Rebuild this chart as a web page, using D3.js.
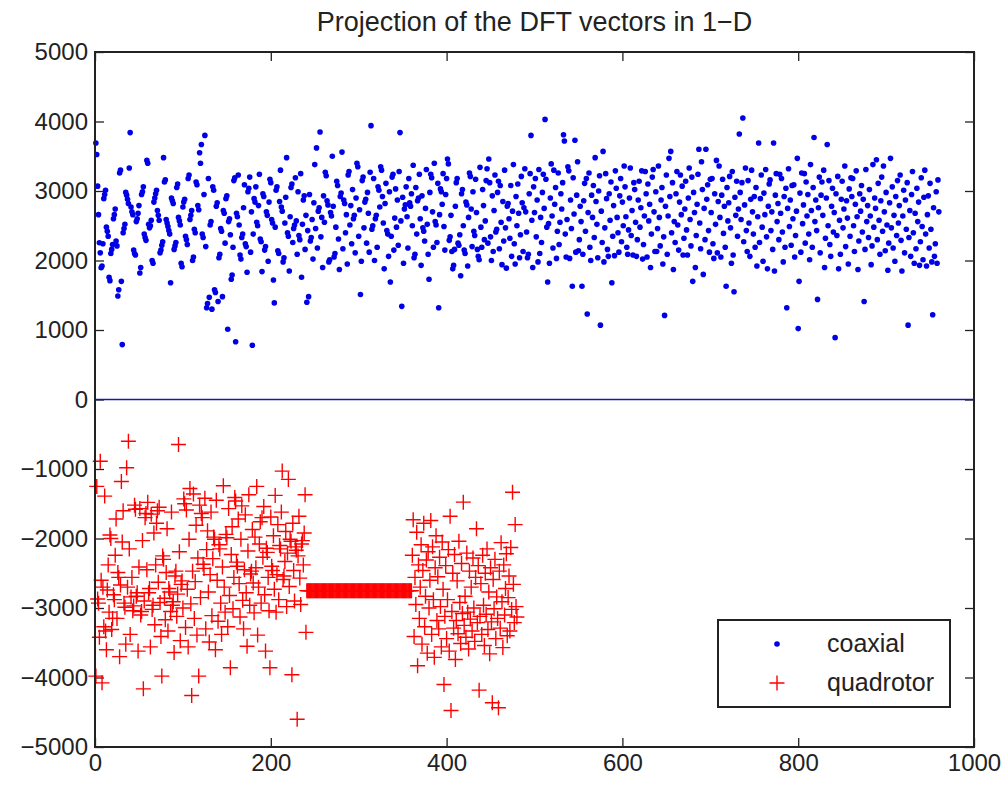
<!DOCTYPE html>
<html>
<head>
<meta charset="utf-8">
<script src="https://cdn.jsdelivr.net/npm/d3@7"></script>
<style>
  body { margin: 0; background: #fff; }
  text { font-family: "Liberation Sans", Arial, Helvetica, sans-serif; fill: #222; }
</style>
</head>
<body>
<script>
const title = 'Projection of the DFT vectors in 1\u2212D';
const seriesNames = ['coaxial', 'quadrotor'];
const xTicks = [0, 200, 400, 600, 800, 1000];
const yTicks = [-5000, -4000, -3000, -2000, -1000, 0, 1000, 2000, 3000, 4000, 5000];
const zeroLineX = [0, 1000];
const zeroLineY = [0, 0];

// coaxial: one value per sample, sample index 1..960
const coaxial = [
  3690, 3525, 3070, 2660, 2255, 2110, 1895, 1920, 2240, 2890,
  2950, 3010, 2480, 2420, 2350, 1760, 1710, 2100, 2160, 2230,
  2600, 2660, 2740, 2280, 2210, 1490, 1580, 3260, 3300, 1700,
  790, 2400, 2460, 2520, 2980, 2940, 2880, 2820, 3330, 3840,
  2770, 2700, 2660, 2150, 2100, 2080, 2560, 2600, 2680, 2790,
  1820, 1900, 2950, 2990, 3060, 2380, 2330, 2290, 3440, 3400,
  2520, 2470, 2500, 2580, 2000, 1960, 2840, 2900, 2960, 3010,
  2720, 2650, 2580, 2110, 2150, 2220, 2270, 3480, 3130, 3160,
  2590, 2540, 2490, 2430, 2380, 1680, 2900, 2860, 2820, 2160,
  2210, 2260, 3050, 3100, 2620, 2570, 2510, 1960, 1910, 2770,
  2840, 2880, 2350, 2300, 2230, 3180, 3230, 2590, 2650, 2720,
  2000, 2050, 2450, 2400, 3130, 3090, 2790, 2730, 3550, 3400,
  3670, 2380, 2330, 2950, 3800, 2200, 1320, 1380, 3180, 1470,
  2510, 2560, 1300, 3060, 3010, 1580, 1540, 2780, 2830, 1410,
  2040, 2090, 2460, 2420, 1480, 2720, 2680, 2250, 2890, 2930,
  1010, 2560, 2600, 2370, 1730, 1790, 2190, 3150, 3190, 830,
  2680, 2630, 3230, 2510, 2080, 2020, 2330, 2380, 2760, 3090,
  2240, 2200, 1830, 2990, 3040, 3200, 2120, 2700, 780, 2380,
  2890, 2840, 3060, 2550, 2500, 2790, 3240, 2310, 2270, 1840,
  2960, 2920, 2150, 2200, 2700, 2650, 1990, 2840, 3170, 3120,
  2590, 2540, 1720, 1390, 2480, 3010, 3060, 2140, 2100, 2850,
  3300, 2770, 2710, 1980, 2040, 2540, 2910, 3480, 2400, 2350,
  1850, 2630, 3050, 3100, 2260, 2460, 2510, 3190, 2570, 2090,
  2990, 2360, 2300, 3250, 1760, 2520, 2870, 2930, 2160, 2650,
  1400, 2430, 1480, 2950, 2280, 2330, 2590, 2020, 2830, 3380,
  2460, 3620, 2180, 2710, 2760, 3850, 2340, 2620, 1900, 2930,
  2550, 3270, 3220, 2860, 2800, 1980, 2010, 2690, 2640, 3500,
  2780, 2050, 2100, 2480, 3140, 3080, 2310, 1870, 2920, 2970,
  3560, 2170, 2870, 2820, 2400, 2660, 1950, 3230, 3280, 2510,
  2790, 2240, 3020, 2600, 2650, 2110, 2900, 3400, 3350, 2350,
  2730, 1510, 1990, 3150, 3200, 2470, 2840, 2880, 2250, 2980,
  2680, 2120, 3270, 3940, 2450, 2500, 3180, 2000, 2600, 2650,
  2190, 3060, 3010, 2770, 3350, 3300, 2920, 2540, 1880, 2820,
  3110, 2430, 2380, 2060, 2990, 1690, 2350, 3200, 3240, 2150,
  2610, 3030, 2480, 2870, 2220, 3280, 3840, 2570, 1340, 2910,
  1960, 2740, 2800, 3060, 2630, 2180, 3180, 2830, 2780, 2960,
  2500, 3370, 2040, 2090, 3050, 2380, 2860, 2900, 3240, 2600,
  1930, 2930, 2470, 2420, 2280, 2750, 3310, 2520, 2090, 1730,
  2980, 3240, 3190, 2700, 2190, 3400, 2560, 2510, 2260, 3110,
  1320, 2660, 3030, 2990, 2810, 3250, 2490, 2150, 2950, 3180,
  3460, 3390, 2290, 2340, 2650, 2130, 1880, 1930, 2160, 2780,
  3120, 3180, 2250, 2220, 2370, 1780, 2960, 3020, 2500, 2150,
  2100, 2840, 2800, 1920, 2620, 3260, 3210, 2740, 2200, 2990,
  2420, 2360, 3170, 2690, 2160, 2060, 2010, 3340, 2480, 2190,
  3020, 2790, 2300, 2570, 3150, 3320, 2250, 3460, 3120, 2340,
  2000, 2930, 2130, 2720, 3230, 2410, 2450, 2980, 3140, 2170,
  3080, 2550, 1940, 2850, 2280, 3300, 2470, 1890, 2780, 2820,
  2600, 2320, 3080, 2060, 2710, 3380, 2240, 1950, 2920, 2500,
  3100, 2680, 2040, 2370, 3210, 2830, 2130, 2760, 3320, 2700,
  2410, 2040, 2090, 2960, 3250, 3800, 2580, 1900, 3060, 2690,
  3180, 2340, 2870, 1980, 3310, 2100, 2620, 2260, 2980, 3240,
  2750, 4030, 3170, 2480, 1690, 2530, 1960, 2900, 3390, 2640,
  2180, 3300, 2810, 3050, 2030, 2420, 3260, 2230, 2550, 2960,
  2740, 3120, 3810, 3720, 2380, 2050, 2590, 3350, 3290, 2030,
  2870, 2460, 1630, 3190, 2670, 3730, 2120, 2940, 3420, 2140,
  2300, 2780, 2560, 1630, 2090, 2860, 3110, 2420, 3180, 1230,
  2690, 3260, 2190, 2000, 2940, 2620, 3080, 2330, 3480, 2850,
  2520, 2040, 3000, 3220, 1070, 2710, 2260, 3570, 1980, 2470,
  3250, 2890, 2160, 2060, 2960, 2580, 3130, 1680, 2350, 2790,
  2070, 3290, 3040, 2620, 2400, 2120, 2930, 3180, 2270, 2840,
  2500, 3360, 3060, 2630, 2190, 2090, 2440, 2900, 3330, 2360,
  2720, 2080, 3120, 3020, 2550, 2060, 2300, 2870, 3140, 2480,
  2760, 3290, 2020, 2230, 2640, 3280, 2960, 2050, 3100, 2570,
  2810, 1900, 2380, 3200, 3310, 2700, 2130, 2990, 2130, 2460,
  3360, 2620, 2210, 2870, 3050, 1950, 2340, 1210, 2780, 3230,
  2090, 2640, 3470, 2920, 3570, 2400, 3120, 1870, 2560, 2260,
  2960, 3280, 2510, 2150, 2840, 3230, 2660, 3070, 2080, 2320,
  2740, 3140, 2440, 2080, 2900, 3330, 2590, 2210, 3200, 1700,
  2980, 2690, 1900, 2360, 2810, 3240, 3600, 2540, 2170, 3420,
  3020, 1800, 2750, 2300, 3600, 2880, 3090, 2430, 2120, 3170,
  2690, 3180, 2240, 2030, 2960, 2520, 3440, 2110, 2850, 3360,
  2620, 2050, 2940, 3170, 2390, 2780, 2190, 1630, 3050, 2570,
  2830, 3210, 2470, 1960, 3280, 2080, 1550, 2910, 2650, 3140,
  2350, 2740, 3820, 2980, 2590, 3120, 4050, 2270, 2800, 3330,
  2430, 2130, 3150, 2540, 2060, 2880, 3300, 2700, 2380, 2920,
  2190, 3050, 1920, 2630, 3690, 2260, 2890, 3230, 2480, 1990,
  2970, 2660, 3310, 2340, 1880, 2780, 3100, 3160, 2430, 2700,
  2160, 3690, 1850, 2940, 3250, 2560, 2820, 2300, 3240, 2680,
  3180, 2410, 1980, 2920, 2190, 3040, 1320, 2750, 3320, 2490,
  2870, 2220, 3080, 2600, 3090, 2050, 2360, 2710, 3470, 1020,
  1700, 2970, 2120, 3260, 2530, 2800, 3250, 2250, 3130, 2640,
  2950, 2380, 2010, 3380, 2720, 2190, 3050, 3770, 2560, 2870,
  2430, 1440, 2760, 3200, 2110, 2940, 3130, 2650, 3300, 1900,
  2320, 2900, 3670, 2500, 3150, 2230, 2060, 2780, 3040, 2410,
  2690, 890, 2960, 2360, 3210, 1880, 2580, 2090, 2880, 3140,
  2470, 2740, 3360, 2200, 2860, 2610, 1950, 3030, 2350, 3190,
  2920, 3180, 2500, 2130, 2810, 3290, 2630, 1870, 2280, 2960,
  2710, 3080, 2410, 2880, 1410, 2160, 3310, 2560, 2790, 2330,
  3020, 2640, 1940, 2210, 3380, 2480, 2900, 2750, 3450, 2300,
  3110, 2580, 2090, 2860, 3200, 2420, 3360, 2700, 2140, 2980,
  2510, 1860, 2250, 2830, 3470, 2470, 3060, 2180, 2650, 1990,
  2920, 2360, 3150, 2540, 2790, 3230, 2290, 1850, 2640, 3010,
  2110, 2870, 2450, 3120, 1070, 2330, 2720, 2060, 2950, 3280,
  2400, 1960, 2680, 2170, 3040, 2560, 2840, 1930, 2270, 3190,
  2490, 2010, 2910, 3300, 2380, 1920, 2660, 2930, 2180, 3110,
  2450, 1980, 1220, 2760, 2060, 2240, 2990, 1960, 3160, 2700
];

// quadrotor: one value per sample, sample index 1..480
const quadrotor = [
  -3980, -1250, -2870, -2930, -3420, -888, -2600, -4077, -2700, -3270,
  -1390, -3330, -3600, -2740, -2380, -3060, -1950, -2000, -3310, -3150,
  -2810, -2880, -2240, -1720, -3150, -2490, -2560, -3700, -2670, -1180,
  -2050, -1600, -2930, -2990, -3520, -983, -2700, -600, -2150, -3380,
  -2840, -2560, -3040, -2970, -1520, -1580, -2830, -2780, -3620, -2410,
  -1570, -3100, -3050, -2030, -4163, -2900, -1700, -1640, -2450, -1480,
  -2780, -2720, -3560, -1650, -3020, -2960, -1920, -3240, -2380, -1780,
  -1600, -2630, -1550, -2920, -3410, -3980, -2250, -2300, -2860, -3170,
  -2490, -1860, -3330, -2720, -2770, -3050, -1620, -2960, -2910, -3640,
  -2540, -2470, -3120, -2800, -648, -2190, -3470, -2660, -2610, -3000,
  -1430, -1500, -3280, -1590, -2730, -3560, -2010, -1280, -2940, -4260,
  -2470, -1360, -3150, -2620, -1810, -3390, -2280, -3980, -1520, -2850,
  -1640, -1700, -2370, -2430, -1420, -3300, -2160, -1890, -2770, -3490,
  -2520, -1620, -3110, -2290, -1980, -2010, -3600, -1450, -2600, -3190,
  -2090, -2150, -2930, -3380, -2410, -1240, -2700, -3060, -1940, -1990,
  -3270, -1570, -2820, -3860, -2230, -1830, -3010, -2560, -1410, -1460,
  -2340, -2400, -1720, -2650, -3130, -2010, -1530, -2890, -3300, -2450,
  -1660, -2780, -3550, -2180, -1370, -2960, -2510, -2470, -1870, -2640,
  -3070, -1980, -2420, -1250, -3390, -2700, -2080, -1760, -2930, -1700,
  -2270, -1540, -2810, -3620, -2140, -2200, -2560, -3040, -3860, -1690,
  -2400, -2460, -1960, -2730, -1380, -3060, -2520, -1800, -2880, -2100,
  -2150, -1620, -1030, -2590, -2540, -2330, -1900, -2980, -2210, -1150,
  -2690, -2010, -2040, -3960, -1780, -2460, -2900, -2120, -2170, -4600,
  -2250, -1680, -2570, -2950, -2080, -2030, -2380, -1920, -1370, -3350,
  -2750, -2750, -2750, -2750, -2750, -2750, -2750, -2750, -2750, -2750,
  -2750, -2750, -2750, -2750, -2750, -2750, -2750, -2750, -2750, -2750,
  -2750, -2750, -2750, -2750, -2750, -2750, -2750, -2750, -2750, -2750,
  -2750, -2750, -2750, -2750, -2750, -2750, -2750, -2750, -2750, -2750,
  -2750, -2750, -2750, -2750, -2750, -2750, -2750, -2750, -2750, -2750,
  -2750, -2750, -2750, -2750, -2750, -2750, -2750, -2750, -2750, -2750,
  -2750, -2750, -2750, -2750, -2750, -2750, -2750, -2750, -2750, -2750,
  -2750, -2750, -2750, -2750, -2750, -2750, -2750, -2750, -2750, -2750,
  -2750, -2750, -2750, -2750, -2750, -2750, -2750, -2750, -2750, -2750,
  -2750, -2750, -2750, -2750, -2750, -2750, -2750, -2750, -2750, -2750,
  -2750, -2750, -2750, -2750, -2750, -2750, -2750, -2750, -2750, -2750,
  -2750, -2750, -2750, -2750, -2750, -2750, -2750, -2750, -2750, -2750,
  -2240, -1730, -3410, -2560, -2950, -1910, -3830, -2380, -3150, -2700,
  -2090, -3520, -2460, -1780, -3270, -2830, -2310, -3650, -2190, -3000,
  -2600, -1740, -3380, -2120, -2880, -3710, -2420, -1960, -3180, -2550,
  -3300, -2270, -2980, -3560, -2050, -2730, -4100, -3120, -2390, -3440,
  -2880, -2160, -3620, -1680, -4475, -3050, -2500, -3290, -2230, -3740,
  -3180, -2610, -3370, -2040, -2920, -3510, -2360, -3080, -1477, -3250,
  -2830, -3420, -2210, -3060, -3590, -2470, -3160, -2700, -3330, -2280,
  -3000, -3480, -2560, -1860, -3210, -2390, -4182, -3120, -2650, -3380,
  -2240, -2960, -3540, -2500, -3090, -2150, -3310, -2770, -3660, -2420,
  -3200, -4364, -2590, -3010, -2300, -3440, -2840, -3150, -4436, -2470,
  -3290, -2060, -2910, -3570, -2380, -3100, -2720, -2220, -3400, -2850,
  -2540, -3330, -2130, -3020, -1334, -2660, -3210, -1800, -2980, -3130
];

const width = 1008;
const height = 786;

const svg = d3.select('body')
  .append('svg')
  .attr('width', width)
  .attr('height', height);

const x = d3.scaleLinear().domain([0, 1000]).range([95, 974]);
const y = d3.scaleLinear().domain([-5000, 5000]).range([747, 52]);

const tickLen = 9;

// bottom and left axes carry the labels, ticks point inward like matlab
svg.append('g')
  .attr('transform', `translate(0,${y.range()[0]})`)
  .call(d3.axisBottom(x).tickValues(xTicks).tickSize(-tickLen).tickPadding(7).tickFormat(d3.format('d')))
  .call(g => g.select('.domain').remove());

svg.append('g')
  .attr('transform', `translate(0,${y.range()[1]})`)
  .call(d3.axisTop(x).tickValues(xTicks).tickSize(-tickLen).tickFormat(''))
  .call(g => g.select('.domain').remove());

svg.append('g')
  .attr('transform', `translate(${x.range()[0]},0)`)
  .call(d3.axisLeft(y).tickValues(yTicks).tickSize(-tickLen).tickPadding(7).tickFormat(d3.format('d')))
  .call(g => g.select('.domain').remove());

svg.append('g')
  .attr('transform', `translate(${x.range()[1]},0)`)
  .call(d3.axisRight(y).tickValues(yTicks).tickSize(-tickLen).tickFormat(''))
  .call(g => g.select('.domain').remove());

svg.selectAll('.tick line').attr('stroke', '#222').attr('stroke-width', 1.3);
svg.selectAll('.tick text').style('font-size', '24px').attr('fill', '#222');

// data
const plotArea = svg.append('g');

plotArea.selectAll('circle.coaxial')
  .data(coaxial)
  .enter()
  .append('circle')
  .attr('class', 'coaxial')
  .attr('cx', (d, i) => x(i + 1))
  .attr('cy', d => y(d))
  .attr('r', 2.8)
  .attr('fill', '#0000e6');

const plus = s => `M${-s},0H${s}M0,${-s}V${s}`;

plotArea.selectAll('path.quadrotor')
  .data(quadrotor)
  .enter()
  .append('path')
  .attr('class', 'quadrotor')
  .attr('transform', (d, i) => `translate(${x(i + 1)},${y(d)})`)
  .attr('d', plus(7.5))
  .attr('fill', 'none')
  .attr('stroke', '#ff0000')
  .attr('stroke-width', 1.4);

plotArea.append('line')
  .attr('x1', x(zeroLineX[0]))
  .attr('x2', x(zeroLineX[1]))
  .attr('y1', y(zeroLineY[0]))
  .attr('y2', y(zeroLineY[1]))
  .attr('stroke', '#1a1aa6')
  .attr('stroke-width', 1.3);

// box around the axes
svg.append('rect')
  .attr('x', x.range()[0])
  .attr('y', y.range()[1])
  .attr('width', x.range()[1] - x.range()[0])
  .attr('height', y.range()[0] - y.range()[1])
  .attr('fill', 'none')
  .attr('stroke', '#222')
  .attr('stroke-width', 2);

svg.append('text')
  .attr('x', (x.range()[0] + x.range()[1]) / 2)
  .attr('y', 31)
  .attr('text-anchor', 'middle')
  .style('font-size', '27px')
  .text(title);

// legend
const legend = svg.append('g').attr('transform', 'translate(718,620)');

legend.append('rect')
  .attr('width', 232)
  .attr('height', 87)
  .attr('fill', '#fff')
  .attr('stroke', '#222')
  .attr('stroke-width', 2);

legend.append('circle')
  .attr('cx', 59)
  .attr('cy', 24)
  .attr('r', 2.8)
  .attr('fill', '#0000e6');

legend.append('path')
  .attr('transform', 'translate(59,63)')
  .attr('d', plus(7.5))
  .attr('stroke', '#ff0000')
  .attr('stroke-width', 1.4);

legend.selectAll('text')
  .data(seriesNames)
  .enter()
  .append('text')
  .attr('x', 109)
  .attr('y', (d, i) => 32 + i * 39)
  .style('font-size', '25px')
  .text(d => d);
</script>
</body>
</html>
